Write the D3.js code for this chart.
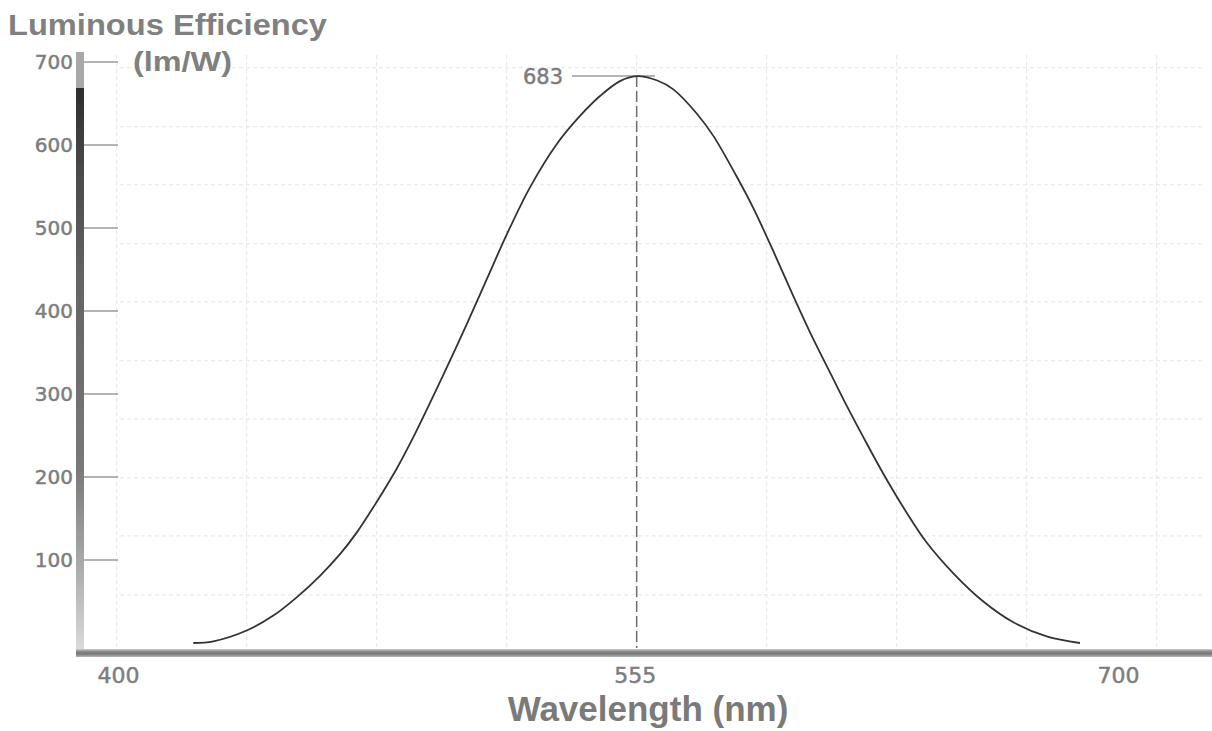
<!DOCTYPE html>
<html>
<head>
<meta charset="utf-8">
<script src="https://cdn.jsdelivr.net/npm/d3@7"></script>
<style>
  html, body { margin: 0; padding: 0; background: #fff; }
  svg { display: block; font-family: "Liberation Sans", Arial, Helvetica, sans-serif; }
</style>
</head>
<body>
<svg id="chart" width="1212" height="731"></svg>
<script>
// Photopic luminous efficiency curve (lm/W) against wavelength (nm)
const wavelengths = [422, 428, 438, 446, 453, 460, 466, 471, 477, 483, 488, 492, 497, 504, 510, 516, 523, 531, 538, 544, 550, 555,
                     561, 566, 573, 578, 585, 590, 596, 602, 608, 614, 618, 623, 629, 636, 642, 650, 659, 668, 678, 688];
const efficiency  = [0, 2, 15, 33, 55, 81, 107, 133, 170, 210, 248, 281, 323, 384, 438, 492, 549, 601, 635, 659, 677, 683,
                     678, 667, 638, 611, 562, 524, 472, 418, 366, 318, 286, 248, 204, 157, 121, 84, 50, 25, 8, 0];

const xTickValues = [400, 555, 700];
const yTickValues = [100, 200, 300, 400, 500, 600, 700];
const xGridValues = [399, 438, 477, 516, 555, 594, 633, 672, 711];
const yGridValues = [58, 129, 199, 270, 340, 411, 481, 552, 622, 693];

const peakWavelength = 555;
const peakValue = 683;

const svg = d3.select("#chart");

const x = d3.scaleLinear().domain([400, 700]).range([120, 1120]);
const y = d3.scaleLinear().domain([0, 700]).range([643, 62]);

const textGray = "#7d7d7d";
const numberFont = "'DejaVu Sans', Verdana, sans-serif";

// gradients for the two axis rods
const defs = svg.append("defs");
const yGrad = defs.append("linearGradient").attr("id", "yRod")
  .attr("x1", 0).attr("y1", 0).attr("x2", 0).attr("y2", 1);
[[0, "#a8a8a8"], [0.06, "#a8a8a8"], [0.061, "#2e2e2e"], [0.2, "#4a4a4a"], [0.38, "#646464"],
 [0.55, "#6e6e6e"], [0.7, "#7a7a7a"], [0.85, "#a8a8a8"], [1, "#dadada"]]
  .forEach(([o, c]) => yGrad.append("stop").attr("offset", o).attr("stop-color", c));

const xGrad = defs.append("linearGradient").attr("id", "xRod")
  .attr("x1", 0).attr("y1", 0).attr("x2", 0).attr("y2", 1);
[[0, "#cfcfcf"], [0.3, "#8c8c8c"], [0.6, "#767676"], [1, "#b5b5b5"]]
  .forEach(([o, c]) => xGrad.append("stop").attr("offset", o).attr("stop-color", c));

// dashed grid
const grid = svg.append("g").attr("stroke", "#e6e6e6").attr("stroke-width", 1)
  .attr("stroke-dasharray", "4,3").attr("fill", "none");
grid.selectAll("line.v").data(xGridValues).join("line").attr("class", "v")
  .attr("x1", d => x(d)).attr("x2", d => x(d)).attr("y1", 55).attr("y2", 648);
grid.selectAll("line.h").data(yGridValues).join("line").attr("class", "h")
  .attr("x1", 120).attr("x2", 1205).attr("y1", d => y(d)).attr("y2", d => y(d));

// y axis: rod, tick marks, labels
svg.append("rect").attr("x", 76).attr("y", 52).attr("width", 8).attr("height", 598)
  .attr("fill", "url(#yRod)");
const yAxis = d3.axisLeft(y).tickValues(yTickValues).tickSize(0).tickPadding(0);
const yg = svg.append("g").attr("transform", "translate(73,0)").call(yAxis);
yg.select(".domain").remove();
yg.selectAll("text").attr("fill", textGray).attr("font-size", 20)
  .attr("stroke", textGray).attr("stroke-width", 0.5)
  .attr("font-family", numberFont);
svg.append("g").selectAll("line").data(yTickValues).join("line")
  .attr("x1", 84).attr("x2", 118).attr("y1", d => y(d)).attr("y2", d => y(d))
  .attr("stroke", "#9a9a9a").attr("stroke-width", 1.5);

// x axis rod and labels
svg.append("rect").attr("x", 76).attr("y", 649).attr("width", 1136).attr("height", 8)
  .attr("fill", "url(#xRod)");
const xAxis = d3.axisBottom(x).tickValues(xTickValues).tickSize(0).tickPadding(0);
const xg = svg.append("g").attr("transform", "translate(-2,667)").call(xAxis);
xg.select(".domain").remove();
xg.selectAll("text").attr("fill", textGray).attr("font-size", 22).attr("dy", "0.73em")
  .attr("stroke", textGray).attr("stroke-width", 0.5)
  .attr("font-family", numberFont);

// peak marker
svg.append("line")
  .attr("x1", x(peakWavelength)).attr("x2", x(peakWavelength))
  .attr("y1", y(peakValue)).attr("y2", 648)
  .attr("stroke", "#6e6e6e").attr("stroke-width", 1.5).attr("stroke-dasharray", "11,4");
svg.append("line")
  .attr("x1", 572).attr("x2", 655).attr("y1", y(peakValue)).attr("y2", y(peakValue))
  .attr("stroke", "#9a9a9a").attr("stroke-width", 1.5);
svg.append("text").attr("x", 563).attr("y", y(peakValue)).attr("dy", "0.36em")
  .attr("text-anchor", "end").attr("fill", textGray).attr("font-size", 21)
  .attr("stroke", textGray).attr("stroke-width", 0.5)
  .attr("font-family", numberFont)
  .text(peakValue);

// efficiency curve
const line = d3.line()
  .x((d, i) => x(wavelengths[i]))
  .y(d => y(d))
  .curve(d3.curveCatmullRom.alpha(0.5));
svg.append("path").datum(efficiency)
  .attr("d", line)
  .attr("fill", "none").attr("stroke", "#333").attr("stroke-width", 1.8);

// axis titles
svg.append("text").attr("x", 8).attr("y", 35)
  .attr("font-size", 30).attr("font-weight", "bold").attr("fill", "#808080")
  .attr("textLength", 319).attr("lengthAdjust", "spacingAndGlyphs")
  .text("Luminous Efficiency");
svg.append("text").attr("x", 133).attr("y", 71)
  .attr("font-size", 27).attr("font-weight", "bold").attr("fill", "#808080")
  .attr("textLength", 99).attr("lengthAdjust", "spacingAndGlyphs")
  .text("(lm/W)");
svg.append("text").attr("x", 648).attr("y", 721).attr("text-anchor", "middle")
  .attr("font-size", 35).attr("font-weight", "bold").attr("fill", "#7a7a7a")
  .text("Wavelength (nm)");
</script>
</body>
</html>
